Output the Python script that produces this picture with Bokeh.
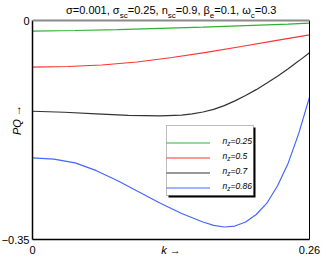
import math
from bokeh.plotting import figure
from bokeh.models import FixedTicker, LinearAxis, Label, Legend, LegendItem, BoxAnnotation, Range1d, Span
from bokeh.embed import file_html
from bokeh.resources import INLINE

# ---- data ----
k_green = [0.0, 0.04, 0.08, 0.12, 0.16, 0.20, 0.24, 0.26]
pq_green = [-0.0171, -0.0160, -0.0145, -0.0125, -0.0106, -0.0083, -0.0058, -0.0043]

k_red = [0.0, 0.033, 0.065, 0.098, 0.131, 0.163, 0.196, 0.228, 0.26]
pq_red = [-0.0746, -0.0735, -0.0711, -0.0663, -0.0591, -0.0508, -0.0416, -0.0323, -0.0229]

k_black = [0.0, 0.03, 0.06, 0.09, 0.12, 0.14, 0.15, 0.16, 0.17, 0.18, 0.19, 0.20, 0.21, 0.22,
           0.23, 0.24, 0.25, 0.26]
pq_black = [-0.1450, -0.1466, -0.1491, -0.1515, -0.1523, -0.1512, -0.1492, -0.1462, -0.1420,
            -0.1360, -0.1285, -0.1200, -0.1105, -0.1000, -0.0890, -0.0770, -0.0645, -0.0516]

k_blue = [0.0, 0.02, 0.04, 0.06, 0.08, 0.10, 0.12, 0.14, 0.16, 0.17, 0.18, 0.19, 0.20,
          0.21, 0.22, 0.23, 0.24, 0.25, 0.26]
pq_blue = [-0.2194, -0.2215, -0.2275, -0.2400, -0.2560, -0.2740, -0.2920, -0.3085, -0.3220,
           -0.3275, -0.3300, -0.3285, -0.3220, -0.3100, -0.2920, -0.2640, -0.2280, -0.1800, -0.1225]

series_labels = ["=0.25", "=0.5", "=0.7", "=0.86"]
series_colors = ["#2fb12f", "#ff3333", "#333333", "#4466ff"]
x_ticks = [0, 0.26]
x_tick_labels = {0: "0", 0.26: "0.26"}
y_ticks = [-0.35, 0]
y_tick_labels = {-0.35: "\u22120.35", 0: "0"}

FONT = "Liberation Sans"
PL, PT, PW, PH = 32, 20, 277, 219          # plot box on the page (px)
X0, X1, Y0, Y1 = 0.0, 0.26, -0.35, 0.0
# the frame reaches up to the page top so that the title can be drawn inside it
Y_TOP = Y1 + PT * (Y1 - Y0) / PH

p = figure(frame_width=PW, frame_height=PT + PH, x_range=Range1d(X0, X1), y_range=Range1d(Y0, Y_TOP),
           output_backend="svg", toolbar_location=None, title=None,
           min_border_left=PL, min_border_right=321 - PL - PW, min_border_top=0,
           min_border_bottom=266 - PT - PH)
p.outline_line_color = None
p.grid.visible = False
p.background_fill_color = "white"
p.border_fill_color = "white"

for ax, ticks, labels in ((p.xaxis[0], x_ticks, x_tick_labels), (p.yaxis[0], y_ticks, y_tick_labels)):
    ax.ticker = FixedTicker(ticks=ticks)
    ax.major_label_overrides = labels
    ax.major_tick_line_color = None
    ax.minor_tick_line_color = None
    ax.major_tick_out = 0
    ax.major_tick_in = 0
    ax.axis_line_color = "black"
    ax.axis_line_width = 1.5
    ax.major_label_text_font = FONT
    ax.major_label_text_font_size = "11px"
    ax.major_label_text_color = "black"
    ax.axis_label_text_font = FONT
    ax.axis_label_text_font_size = "11px"
    ax.axis_label_text_font_style = "italic"
    ax.axis_label_text_color = "black"
p.yaxis.bounds = (Y0, Y1)
p.xaxis.major_label_standoff = 6
p.yaxis.major_label_standoff = 3
p.xaxis.axis_label = "k \u2192"
p.xaxis.axis_label_standoff = -13
p.yaxis.axis_label = "PQ \u2192"
p.yaxis.axis_label_standoff = -24

right = LinearAxis(ticker=FixedTicker(ticks=[]), axis_line_color="black", axis_line_width=1,
                   major_tick_line_color=None, minor_tick_line_color=None, major_label_text_font_size="0px",
                   bounds=(Y0, Y1))
p.add_layout(right, "right")
p.add_layout(Span(location=Y1, dimension="width", line_color="#8a8a8a", line_width=2))

renderers = []
for kk, vv, c in ((k_green, pq_green, series_colors[0]), (k_red, pq_red, series_colors[1]),
                  (k_black, pq_black, series_colors[2]), (k_blue, pq_blue, series_colors[3])):
    renderers.append(p.line(kk, vv, line_color=c, line_width=1.2))


# page px -> data
def dx(px):
    return X0 + (px - PL) * (X1 - X0) / PW


def dy(py):
    return Y1 - (py - PT) * (Y1 - Y0) / PH


# ---- rich text helper (subscripts) ----
W = {'0': .556, '1': .556, '2': .556, '3': .556, '4': .556, '5': .556, '6': .556, '7': .556,
     '8': .556, '9': .556, '.': .278, ',': .278, ' ': .278, '=': .584, 'n': .556, 's': .5,
     'c': .5, 'e': .556, 'z': .5, '\u03c3': .62, '\u03b2': .57, '\u03c9': .78}


def text_width(s, size):
    return sum(W.get(ch, .556) for ch in s) * size


def rich(pieces, x, y, size, sub_size, drop, style="normal"):
    for txt, sub in pieces:
        fs = sub_size if sub else size
        p.add_layout(Label(x=dx(x), y=dy(y + (drop if sub else 0)),
                           text=txt, text_font=FONT, text_font_size=f"{fs}px", text_font_style=style,
                           text_baseline="alphabetic", text_align="left", text_color="black"))
        x += text_width(txt, fs)


# ---- legend box (screen units, relative to the frame bottom-left) ----
LX, LY, LW, LH, PAD, ROW = 134, 44, 87, 70, 5, 15
GW, STAND = 44, 6
box_units = dict(left_units="screen", right_units="screen", top_units="screen", bottom_units="screen")
p.add_layout(BoxAnnotation(left=LX + 2, right=LX + LW + 2, bottom=LY - 2, top=LY + LH - 2,
                           fill_color="black", fill_alpha=1, line_color=None, **box_units))
p.add_layout(BoxAnnotation(left=LX, right=LX + LW, bottom=LY, top=LY + LH,
                           fill_color="white", fill_alpha=1, line_color="#222222", line_width=1,
                           **box_units))

for i, lab in enumerate(series_labels):
    row_mid_page = PT + PH - (LY + LH - PAD - ROW * i - ROW / 2)
    rich([("n", False), ("z", True), (lab, False)], PL + LX + PAD + GW + STAND + 1, row_mid_page + 3,
         8.5, 6.5, 2.5, "italic")

title_pieces = [("\u03c3=0.001, \u03c3", False), ("sc", True), ("=0.25, n", False), ("sc", True),
                ("=0.9, \u03b2", False), ("e", True), ("=0.1, \u03c9", False), ("c", True), ("=0.3", False)]
rich(title_pieces, 65.5, 9.5, 11, 8, 5)

# legend sample lines (drawn last, transparent box)
legend = Legend(items=[LegendItem(label=" ", renderers=[r]) for r in renderers],
                location=(LX, LY), padding=PAD, spacing=0, margin=0, label_height=ROW, glyph_height=ROW,
                glyph_width=GW, label_standoff=STAND, label_width=LW - 2 * PAD - GW - STAND,
                border_line_color=None, background_fill_alpha=0, label_text_font_size="8px")
p.add_layout(legend, "center")

open("out.html", "w").write(file_html(p, INLINE))
